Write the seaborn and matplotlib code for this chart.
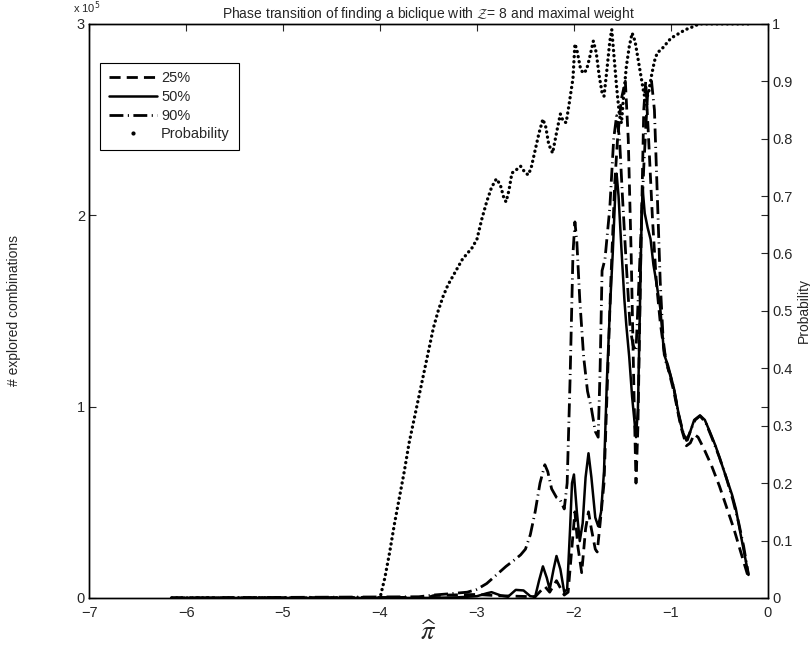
import matplotlib
matplotlib.use("Agg")
import matplotlib.pyplot as plt
import seaborn as sns
import pandas as pd
from matplotlib.lines import Line2D

# ---------------- data (explored combinations in units of 1e5) ----------------
x_p25 = [-6.15, -3.5, -3.45, -3.3, -3.0, -2.8, -2.6, -2.4, -2.3, -2.25,
         -2.18, -2.1, -2.06, -2.02, -1.99, -1.96, -1.92, -1.88, -1.85, -1.82,
         -1.78, -1.76, -1.73, -1.69, -1.66, -1.62, -1.58, -1.55, -1.51, -1.47,
         -1.44, -1.41, -1.38, -1.36, -1.34, -1.31, -1.28, -1.26, -1.23, -1.19,
         -1.15, -1.11, -1.07, -1.03, -0.97, -0.90, -0.84, -0.80, -0.76, -0.72,
         -0.66, -0.58, -0.50, -0.42, -0.35, -0.28, -0.20]
y_p25 = [0, 0.003, 0.012, 0.015, 0.018, 0.012, 0.009, 0.006, 0.06, 0.03,
         0.09, 0.015, 0.03, 0.27, 0.45, 0.27, 0.132, 0.36, 0.45, 0.36,
         0.255, 0.24, 0.39, 0.6, 1.05, 1.65, 2.16, 2.4, 2.61, 2.7,
         2.4, 1.8, 1.05, 0.6, 0.9, 1.8, 2.55, 2.7, 2.4, 1.98,
         1.65, 1.44, 1.29, 1.2, 1.08, 0.9, 0.795, 0.81, 0.855, 0.84,
         0.78, 0.69, 0.585, 0.465, 0.36, 0.24, 0.105]

x_p50 = [-6.15, -3.5, -3.2, -3.0, -2.9, -2.85, -2.75, -2.68, -2.6, -2.52,
         -2.45, -2.4, -2.36, -2.32, -2.28, -2.25, -2.21, -2.18, -2.14, -2.10,
         -2.07, -2.04, -2.02, -2.0, -1.97, -1.94, -1.91, -1.88, -1.85, -1.82,
         -1.78, -1.75, -1.72, -1.69, -1.66, -1.63, -1.60, -1.57, -1.56, -1.54,
         -1.51, -1.48, -1.46, -1.43, -1.40, -1.36, -1.34, -1.32, -1.30, -1.29,
         -1.27, -1.24, -1.21, -1.18, -1.15, -1.11, -1.07, -1.03, -0.97, -0.92,
         -0.88, -0.84, -0.80, -0.76, -0.70, -0.65, -0.60, -0.54, -0.48, -0.43,
         -0.37, -0.33, -0.28, -0.24, -0.20]
y_p50 = [0, 0, 0.003, 0.009, 0.024, 0.03, 0.012, 0.006, 0.042, 0.039,
         0.009, 0.006, 0.09, 0.165, 0.105, 0.045, 0.15, 0.219, 0.15, 0.03,
         0.045, 0.36, 0.6, 0.645, 0.45, 0.297, 0.39, 0.63, 0.756, 0.63,
         0.42, 0.375, 0.45, 0.66, 1.14, 1.5, 1.8, 2.16, 2.217, 2.1,
         1.821, 1.56, 1.425, 1.26, 1.05, 0.84, 0.99, 1.5, 2.04, 2.13,
         2.01, 1.935, 1.875, 1.74, 1.65, 1.515, 1.272, 1.215, 1.098, 0.96,
         0.87, 0.822, 0.87, 0.93, 0.954, 0.93, 0.87, 0.795, 0.705, 0.63,
         0.54, 0.465, 0.33, 0.225, 0.12]

x_p90 = [-6.15, -3.6, -3.45, -3.3, -3.1, -3.0, -2.9, -2.8, -2.7, -2.6,
         -2.55, -2.5, -2.45, -2.4, -2.35, -2.3, -2.27, -2.23, -2.18, -2.14,
         -2.10, -2.07, -2.04, -2.01, -1.99, -1.97, -1.94, -1.90, -1.86, -1.82,
         -1.78, -1.75, -1.73, -1.71, -1.68, -1.63, -1.59, -1.56, -1.53, -1.50,
         -1.46, -1.42, -1.39, -1.36, -1.33, -1.28, -1.24, -1.20, -1.17, -1.14,
         -1.11, -1.08, -1.05, -1.01, -0.97, -0.92, -0.87, -0.83, -0.79, -0.75,
         -0.70, -0.64, -0.58, -0.50, -0.43, -0.36, -0.30, -0.25, -0.20]
y_p90 = [0, 0.006, 0.015, 0.021, 0.03, 0.045, 0.075, 0.12, 0.165, 0.204,
         0.225, 0.255, 0.33, 0.45, 0.6, 0.696, 0.66, 0.57, 0.525, 0.51,
         0.465, 0.6, 1.14, 1.8, 1.965, 1.86, 1.56, 1.26, 1.08, 0.99,
         0.87, 0.84, 1.2, 1.71, 1.77, 2.04, 2.4, 2.52, 2.4, 2.1,
         1.74, 1.41, 1.32, 1.29, 1.65, 2.25, 2.64, 2.7, 2.55, 2.1,
         1.65, 1.35, 1.23, 1.17, 1.095, 0.96, 0.855, 0.825, 0.885, 0.93,
         0.951, 0.915, 0.84, 0.735, 0.63, 0.51, 0.39, 0.27, 0.12]

x_prob = [-6.15, -4.0, -3.95, -3.9, -3.85, -3.8, -3.75, -3.7, -3.65, -3.6,
          -3.55, -3.5, -3.45, -3.4, -3.35, -3.3, -3.25, -3.2, -3.15, -3.1,
          -3.05, -3.0, -2.95, -2.9, -2.85, -2.8, -2.76, -2.72, -2.7, -2.67,
          -2.64, -2.6, -2.55, -2.5, -2.47, -2.44, -2.4, -2.36, -2.32, -2.29,
          -2.26, -2.22, -2.18, -2.14, -2.11, -2.08, -2.05, -2.01, -1.99, -1.97,
          -1.93, -1.9, -1.87, -1.84, -1.8, -1.77, -1.74, -1.71, -1.69, -1.66,
          -1.63, -1.61, -1.59, -1.56, -1.53, -1.51, -1.49, -1.46, -1.43, -1.40,
          -1.37, -1.34, -1.31, -1.28, -1.26, -1.23, -1.2, -1.17, -1.14, -1.1,
          -1.05, -1.0, -0.95, -0.9, -0.85, -0.8, -0.75, -0.7, -0.2]
y_prob = [0, 0, 0.035, 0.08, 0.13, 0.175, 0.22, 0.27, 0.31, 0.35,
          0.39, 0.43, 0.47, 0.50, 0.525, 0.545, 0.56, 0.575, 0.59, 0.60,
          0.61, 0.625, 0.66, 0.69, 0.715, 0.73, 0.72, 0.695, 0.69, 0.71,
          0.74, 0.745, 0.752, 0.74, 0.737, 0.75, 0.78, 0.81, 0.834, 0.82,
          0.79, 0.775, 0.81, 0.843, 0.83, 0.828, 0.86, 0.905, 0.965, 0.955,
          0.92, 0.914, 0.92, 0.94, 0.97, 0.95, 0.91, 0.88, 0.874, 0.92,
          0.97, 0.99, 0.95, 0.89, 0.84, 0.827, 0.87, 0.925, 0.96, 0.984,
          0.97, 0.94, 0.91, 0.88, 0.867, 0.88, 0.91, 0.935, 0.95, 0.955,
          0.965, 0.975, 0.98, 0.985, 0.99, 0.993, 0.997, 1.0, 1.0]

x_ticks = [-7, -6, -5, -4, -3, -2, -1, 0]
left_ticks = [0, 1, 2, 3]
right_ticks = [0, 0.1, 0.2, 0.3, 0.4, 0.5, 0.6, 0.7, 0.8, 0.9, 1]
right_labels = ["0", "0.1", "0.2", "0.3", "0.4", "0.5", "0.6", "0.7", "0.8", "0.9", "1"]
series_labels = ["25%", "50%", "90%", "Probability"]
UNIT = 1e5

# ---------------- style ----------------
sns.set_style("white")
plt.rcParams['font.family'] = ['Liberation Sans', 'DejaVu Sans']
plt.rcParams['font.size'] = 10
plt.rcParams['axes.linewidth'] = 1.0

DASH = (0, (4.0, 2.2))
DASHDOT = (0, (5.0, 1.6, 0.4, 1.6))

fig = plt.figure(figsize=(8.1, 6.45), dpi=100)
ax1 = fig.add_axes([0.11, 0.073, 0.838, 0.89])
ax2 = ax1.twinx()

d25 = pd.DataFrame({"x": x_p25, "y": [v * UNIT for v in y_p25]})
d50 = pd.DataFrame({"x": x_p50, "y": [v * UNIT for v in y_p50]})
d90 = pd.DataFrame({"x": x_p90, "y": [v * UNIT for v in y_p90]})
dpr = pd.DataFrame({"x": x_prob, "y": y_prob})

sns.lineplot(data=d25, x="x", y="y", ax=ax1, color="black", lw=2.0,
             linestyle=DASH, sort=False, estimator=None)
sns.lineplot(data=d50, x="x", y="y", ax=ax1, color="black", lw=1.8,
             sort=False, estimator=None)
sns.lineplot(data=d90, x="x", y="y", ax=ax1, color="black", lw=2.0,
             linestyle=DASHDOT, sort=False, estimator=None)
sns.lineplot(data=dpr, x="x", y="y", ax=ax2, color="black", lw=2.4,
             linestyle=(0, (0.05, 1.5)), dash_capstyle="round",
             sort=False, estimator=None)

ax1.set_xlim(-7, 0)
ax1.set_ylim(0, 3 * UNIT)
ax2.set_ylim(0, 1)
ax1.set_xticks(x_ticks)
ax1.set_yticks([t * UNIT for t in left_ticks])
ax1.set_yticklabels([str(t) for t in left_ticks])
ax2.set_yticks(right_ticks)
ax2.set_yticklabels(right_labels)
ax1.text(-0.024, 1.013, r"x 10$^5$", transform=ax1.transAxes, ha="left", va="bottom",
         fontsize=8)

for ax in (ax1, ax2):
    ax.tick_params(direction="in", length=5, width=0.8, labelsize=10.5, pad=3)
    for s in ax.spines.values():
        s.set_color("black")
        s.set_linewidth(1.0)
ax1.tick_params(top=True, right=True)
ax1.tick_params(axis="x", pad=6)

ax1.set_xlabel(r"$\widehat{\pi}$", fontsize=19, math_fontfamily="stix", labelpad=0)
ax1.set_ylabel("# explored combinations", fontsize=10, labelpad=40)
ax2.set_ylabel("Probability", fontsize=10, labelpad=3)
ax1.set_title(r"Phase transition of finding a biclique with $\mathcal{Z}$= 8 and maximal weight",
              fontsize=10, pad=4)

handles = [
    Line2D([], [], color="black", lw=2.0, linestyle=DASH),
    Line2D([], [], color="black", lw=1.8),
    Line2D([], [], color="black", lw=2.0, linestyle=DASHDOT),
    Line2D([], [], color="black", lw=0, marker=".", markersize=4),
]
leg = ax2.legend(handles, series_labels, loc="upper left", bbox_to_anchor=(0.005, 0.945),
                 frameon=True, fancybox=False, edgecolor="black", framealpha=1,
                 handlelength=3.3, handletextpad=0.3, borderpad=0.6,
                 labelspacing=0.32, fontsize=10.5, borderaxespad=0.5)
leg.get_frame().set_linewidth(0.8)

fig.savefig("out.png", dpi=100)
